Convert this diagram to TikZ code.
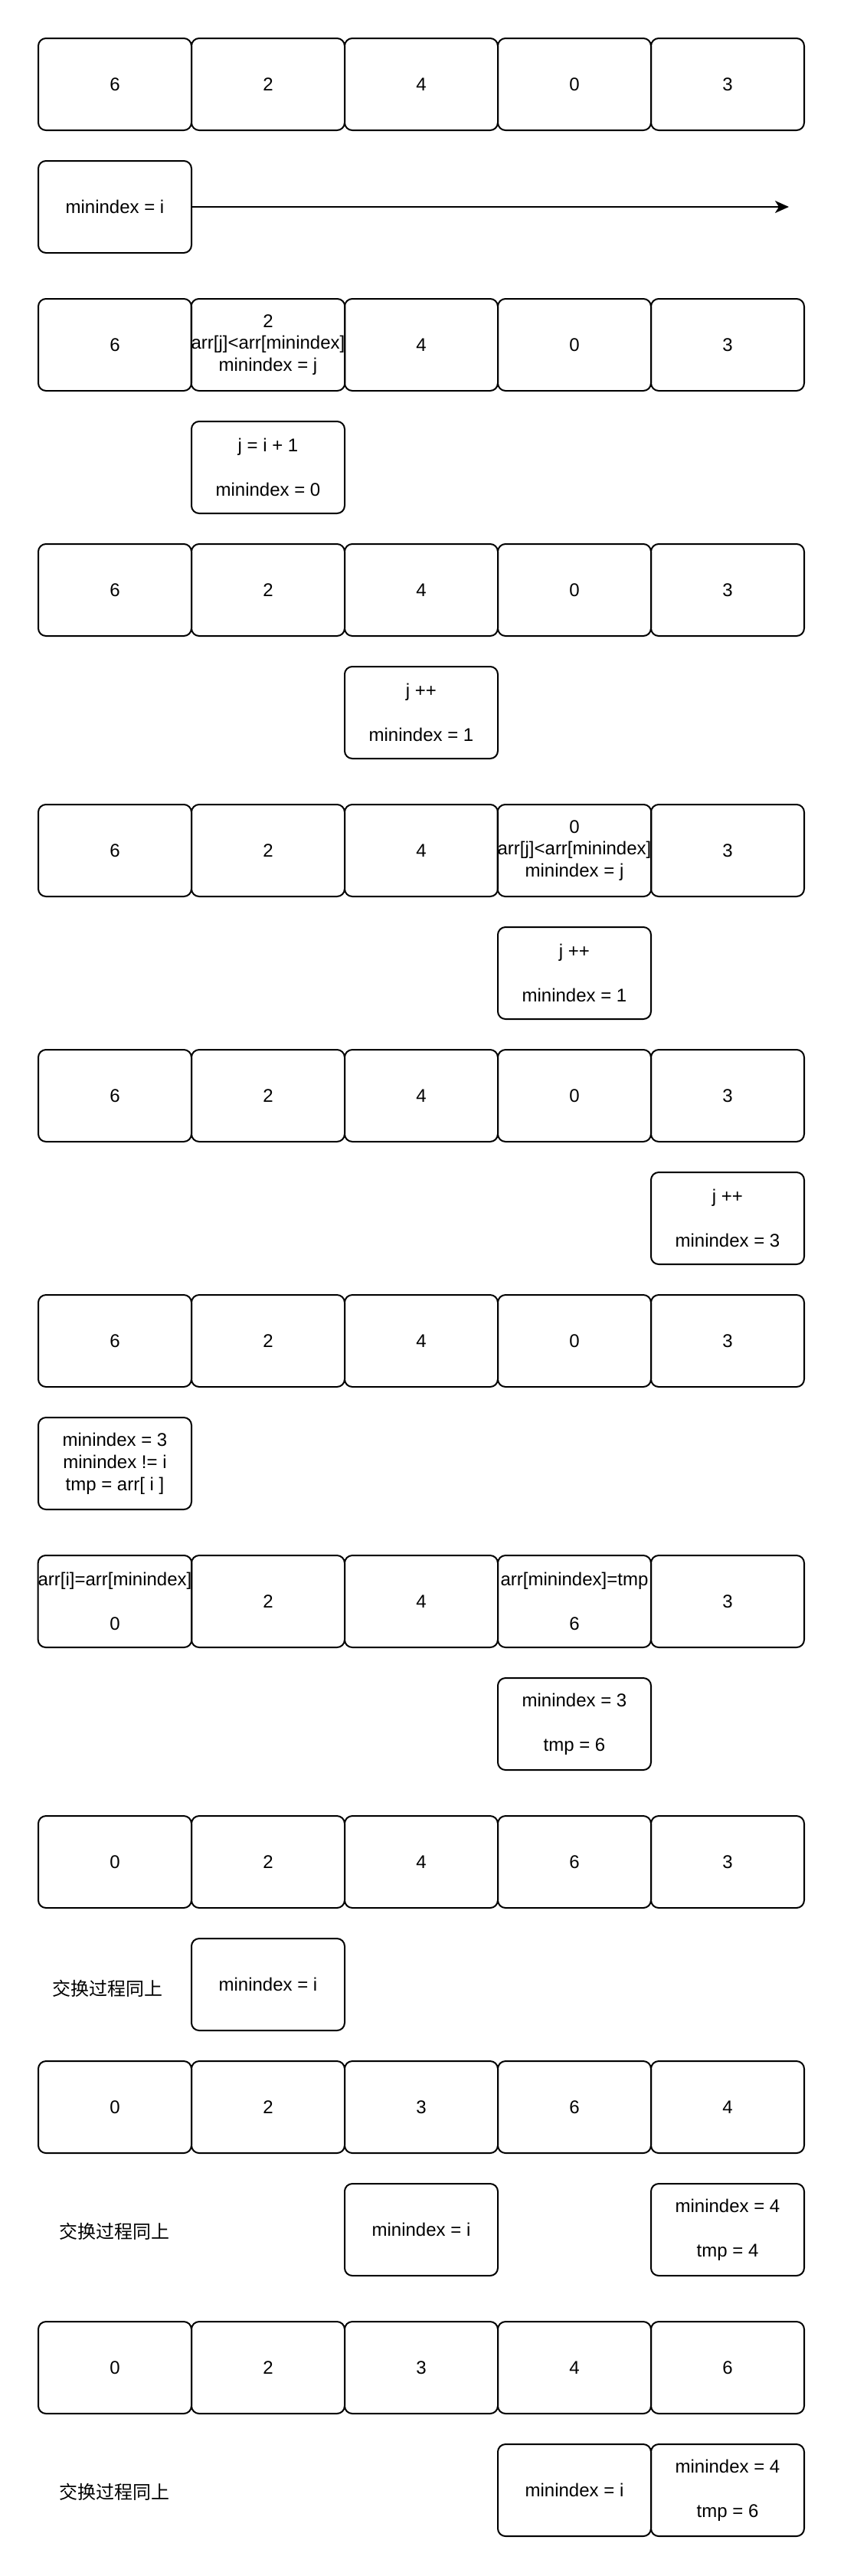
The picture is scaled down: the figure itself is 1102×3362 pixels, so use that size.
\documentclass[tikz,border=0pt]{standalone}
\usepackage{fontspec}
\setmainfont{Liberation Sans}
\newfontfamily\cjk{Noto Sans CJK SC}
\usetikzlibrary{arrows.meta}
\tikzset{
  cell/.style={draw, line width=1pt, rounded corners=5pt, minimum width=100pt, minimum height=60pt,
    inner sep=0pt, align=center, font=\fontsize{12pt}{14.4pt}\selectfont},
  note/.style={inner sep=0pt, font=\cjk\fontsize{12pt}{14.4pt}\selectfont},
  flow/.style={line width=1pt, -{Stealth[length=9pt,width=8pt,inset=2.5pt]}}
}
\newcommand{\gapline}{\\[14.4pt]}
\begin{document}
\begin{tikzpicture}[x=0.5pt,y=-0.5pt]
\useasboundingbox (0,0) rectangle (1102,3362);
% plain rows: row-name / center y / values
\foreach \nm/\cy/\a/\b/\c/\d/\e in {r1/110/6/2/4/0/3, r3/770/6/2/4/0/3, r5/1430/6/2/4/0/3, r6/1750/6/2/4/0/3,
   r8/2430/0/2/4/6/3, r9/2750/0/2/3/6/4, r10/3090/0/2/3/4/6}{
  \node[cell] (\nm c1) at (150,\cy) {\a};
  \node[cell] (\nm c2) at (350,\cy) {\b};
  \node[cell] (\nm c3) at (550,\cy) {\c};
  \node[cell] (\nm c4) at (750,\cy) {\d};
  \node[cell] (\nm c5) at (950,\cy) {\e};
}
% row 2
\node[cell] (r2c1) at (150,450) {6};
\node[cell] (r2c2) at (350,450) {2\\arr[j]<arr[minindex]\\minindex = j};
\node[cell] (r2c3) at (550,450) {4};
\node[cell] (r2c4) at (750,450) {0};
\node[cell] (r2c5) at (950,450) {3};
% row 4
\node[cell] (r4c1) at (150,1110) {6};
\node[cell] (r4c2) at (350,1110) {2};
\node[cell] (r4c3) at (550,1110) {4};
\node[cell] (r4c4) at (750,1110) {0\\arr[j]<arr[minindex]\\minindex = j};
\node[cell] (r4c5) at (950,1110) {3};
% row 7
\node[cell] (r7c1) at (150,2090) {arr[i]=arr[minindex]\gapline 0};
\node[cell] (r7c2) at (350,2090) {2};
\node[cell] (r7c3) at (550,2090) {4};
\node[cell] (r7c4) at (750,2090) {arr[minindex]=tmp\gapline 6};
\node[cell] (r7c5) at (950,2090) {3};
% helper boxes
\node[cell] (b1) at (150,270) {minindex = i};
\coordinate (b1end) at (1030,270);
\draw[flow] (b1.east) -- (b1end);
\node[cell] (b2) at (350,610) {j = i + 1\gapline minindex = 0};
\node[cell] (b3) at (550,930) {j ++\gapline minindex = 1};
\node[cell] (b4) at (750,1270) {j ++\gapline minindex = 1};
\node[cell] (b5) at (950,1590) {j ++\gapline minindex = 3};
\node[cell] (b6) at (150,1910) {minindex = 3\\minindex != i\\tmp = arr[ i ]};
\node[cell] (b7) at (750,2250) {minindex = 3\gapline tmp = 6};
\node[cell] (b8) at (350,2590) {minindex = i};
\node[note] (t1) at (140,2595) {交换过程同上};
\node[cell] (b9) at (550,2910) {minindex = i};
\node[cell] (b10) at (950,2910) {minindex = 4\gapline tmp = 4};
\node[note] (t2) at (149,2912) {交换过程同上};
\node[cell] (b11) at (750,3250) {minindex = i};
\node[cell] (b12) at (950,3250) {minindex = 4\gapline tmp = 6};
\node[note] (t3) at (149,3252) {交换过程同上};
\end{tikzpicture}
\end{document}
